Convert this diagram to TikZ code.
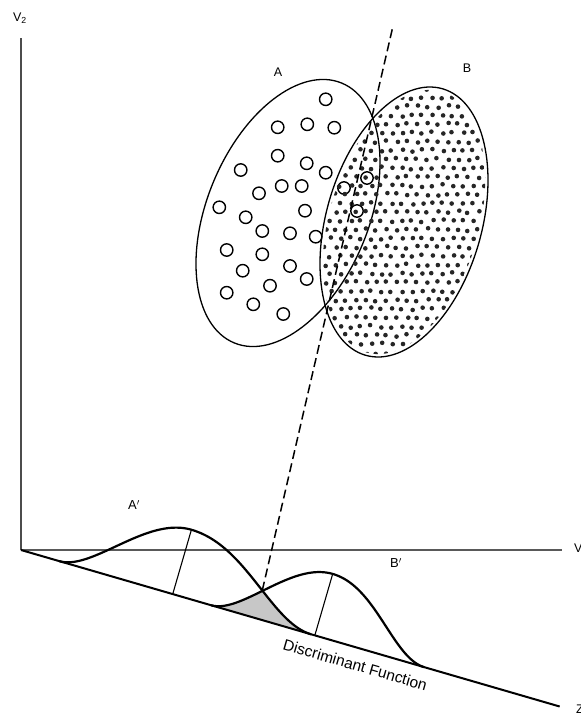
\documentclass[tikz,border=0pt]{standalone}
\usepackage{fontspec}
\setmainfont{Liberation Sans}
\begin{document}
\begin{tikzpicture}[x=1pt,y=-1pt,
  axisv/.style={line width=2.4pt,black!70},
  axish/.style={line width=1.6pt,black!65},
  axisd/.style={line width=2pt,black},
  curve/.style={line width=2.2pt,line join=round},
  perp/.style={line width=1.1pt},
  outline/.style={line width=1.3pt},
  ring/.style={line width=1.4pt},
  dashline/.style={line width=1.5pt,dash pattern=on 9pt off 4.5pt},
  lab/.style={inner sep=0pt,font=\fontsize{12.5}{14}\selectfont},
  declare function={
    wa(\u)=(\u<158)*118+(\u>=158)*144;
    wb(\u)=(\u<306)*108+(\u>=306)*114;
    ta(\u)=(\u-158)/wa(\u);
    tb(\u)=(\u-306)/wb(\u);
    fa(\u)=67*(1-ta(\u)*ta(\u))*(1-ta(\u)*ta(\u));
    fb(\u)=64*(1-tb(\u)*tb(\u))*(1-tb(\u)*tb(\u));
  }]
\useasboundingbox (0,0) rectangle (581,715);
\pgfmathsetseed{7}

% axes and discriminant line
\coordinate (O) at (21,550);
\coordinate (vtop) at (21,38);
\coordinate (hend) at (562,550);
\coordinate (dtop) at (393,26);

% ellipse A and its circles
\draw[outline,rotate around={67.5:(288,213)}] (288,213) ellipse [x radius=140.6, y radius=80.8];
\foreach \p in {(325.7,99.3),(277.7,127.3),(307.3,124.3),(334.3,127.7),(277.7,155.7),
  (306.7,163.3),(325.7,172.7),(240.7,170),(281.7,186),(301.7,186),(259,193.3),
  (219.3,207.3),(245.7,217.3),(305,210.7),(262.3,231),(290,233.3),(315.7,236.7),
  (226.7,250),(262.3,254.3),(290,266),(242.7,270.7),(306.7,279),(270,285.7),
  (226.7,292.7),(253.3,304.3),(283.3,314),(367,178),(344,188),(357,211)}
  \draw[ring] \p circle[radius=6.2];

% ellipse B and its dots
\draw[outline,rotate around={73.9:(404,222)}] (404,222) ellipse [x radius=138.7, y radius=77.7];
\begin{scope}
  \clip[rotate around={73.9:(404,222)}] (404,222) ellipse [x radius=135.8, y radius=74.8];
  \foreach \j in {0,...,32}{
    \foreach \i in {0,...,19}{
      \fill[black!85] ({310+\i*10.2+mod(\j,2)*5.1+1.4*rand},{80+\j*8.8+1.4*rand}) circle[radius=2.3];
    }
  }
\end{scope}

\draw[axisv] (O) -- (vtop);
\draw[axish] (O) -- (hend);

% discriminant frame
\begin{scope}[shift={(21,550)},rotate=-16.2]
  \coordinate (dend) at (561,0);
  \fill[black!22] plot[domain=198:243,samples=30,smooth] (\x,{-fb(\x)})
     -- plot[domain=243:302,samples=40,smooth] (\x,{-fa(\x)}) -- cycle;
  \draw[axisd] (0,0) -- (dend);
  \draw[curve] plot[domain=40:302,samples=140,smooth] (\x,{-fa(\x)});
  \draw[curve] plot[domain=198:420,samples=120,smooth] (\x,{-fb(\x)});
  \coordinate (ma0) at (158,0);
  \coordinate (ma1) at (158,{-fa(158)});
  \coordinate (mb0) at (306,0);
  \coordinate (mb1) at (306,{-fb(306)});
  \draw[perp] (ma0) -- (ma1);
  \draw[perp] (mb0) -- (mb1);
  \coordinate (cross) at (243,{-fa(243)});
  \node[lab,font=\fontsize{15.5}{17}\selectfont,rotate=-16.2] (df) at (353,17) {Discriminant Function};
\end{scope}
\draw[dashline] (cross) -- (dtop);

% labels
\node[lab] (lv2) at (20,18) {V\textsubscript{2}};
\node[lab,anchor=west] (lv1) at (574,549) {V\textsubscript{1}};
\node[lab,anchor=west] (lz) at (576,709) {Z};
\node[lab] (la) at (278,72) {A};
\node[lab] (lb) at (467,68) {B};
\node[lab,font=\fontsize{13}{15}\selectfont] (lap) at (134,505) {A$'$};
\node[lab,font=\fontsize{13}{15}\selectfont] (lbp) at (396,563) {B$'$};
\end{tikzpicture}
\end{document}
